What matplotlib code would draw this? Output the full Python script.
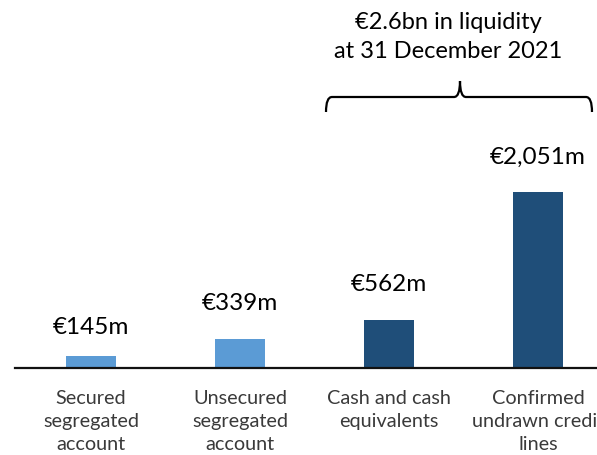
import matplotlib
matplotlib.use("Agg")
import matplotlib.pyplot as plt
from matplotlib.path import Path
from matplotlib.patches import PathPatch

categories = ["Secured\nsegregated\naccount", "Unsecured\nsegregated\naccount",
              "Cash and cash\nequivalents", "Confirmed\nundrawn credit\nlines"]
values = [145, 339, 562, 2051]
value_labels = ["€145m", "€339m", "€562m", "€2,051m"]
bracket_text = "€2.6bn in liquidity\nat 31 December 2021"

colors = ["#5B9BD5", "#5B9BD5", "#1F4E79", "#1F4E79"]
label_gaps_px = [19, 26, 26, 25]

plt.rcParams['font.family'] = ['Lato', 'DejaVu Sans']

W, H = 597, 456
fig = plt.figure(figsize=(W / 100, H / 100), dpi=100)
base_px = 369
ax = fig.add_axes([15 / W, (H - base_px) / H, (W - 15) / W, base_px / H])

scale = 0.0858  # px per unit
ax.set_ylim(0, base_px / scale)
spacing = 149
x0 = 91
ax.set_xlim((15 - x0) / spacing, (W - x0) / spacing)

xs = list(range(len(values)))
ax.bar(xs, values, width=50 / spacing, color=colors, zorder=2)

for x, v, lab, g in zip(xs, values, value_labels, label_gaps_px):
    ax.annotate(lab, (x, v), xytext=(0, g * 0.72), textcoords="offset points",
                ha="center", va="bottom", fontsize=17.5, color="black")

for s in ["top", "right", "left"]:
    ax.spines[s].set_visible(False)
ax.spines["bottom"].set_linewidth(1.6)
ax.spines["bottom"].set_color("#111111")
ax.set_yticks([])
ax.set_xticks(xs)
ax.set_xticklabels(categories, fontsize=14.3, color="#3a3a3a", linespacing=1.45)
ax.tick_params(axis="x", length=0, pad=15)

# brace
def px2x(p):
    return (p - x0) / spacing

def py2y(p):
    return (base_px - p) / scale

xl, xr, xm = px2x(326), px2x(592), px2x(460)
y_end, y_h, y_tip = py2y(113), py2y(98), py2y(82)
r = 6
verts = [
    (xl, y_end), (xl, y_h), (px2x(326 + r), y_h),
    (px2x(460 - r), y_h), (xm, y_h), (xm, y_tip),
    (xm, y_tip), (xm, y_h), (px2x(460 + r), y_h),
    (px2x(592 - r), y_h), (xr, y_h), (xr, y_end),
]
codes = [Path.MOVETO, Path.CURVE3, Path.CURVE3,
         Path.LINETO, Path.CURVE3, Path.CURVE3,
         Path.MOVETO, Path.CURVE3, Path.CURVE3,
         Path.LINETO, Path.CURVE3, Path.CURVE3]
ax.add_patch(PathPatch(Path(verts, codes), fill=False, lw=1.6,
                       edgecolor="black", clip_on=False))

ax.text(px2x(448), py2y(37), bracket_text, ha="center", va="center",
        fontsize=17, linespacing=1.52, color="black")

fig.savefig("out.png", dpi=100)
